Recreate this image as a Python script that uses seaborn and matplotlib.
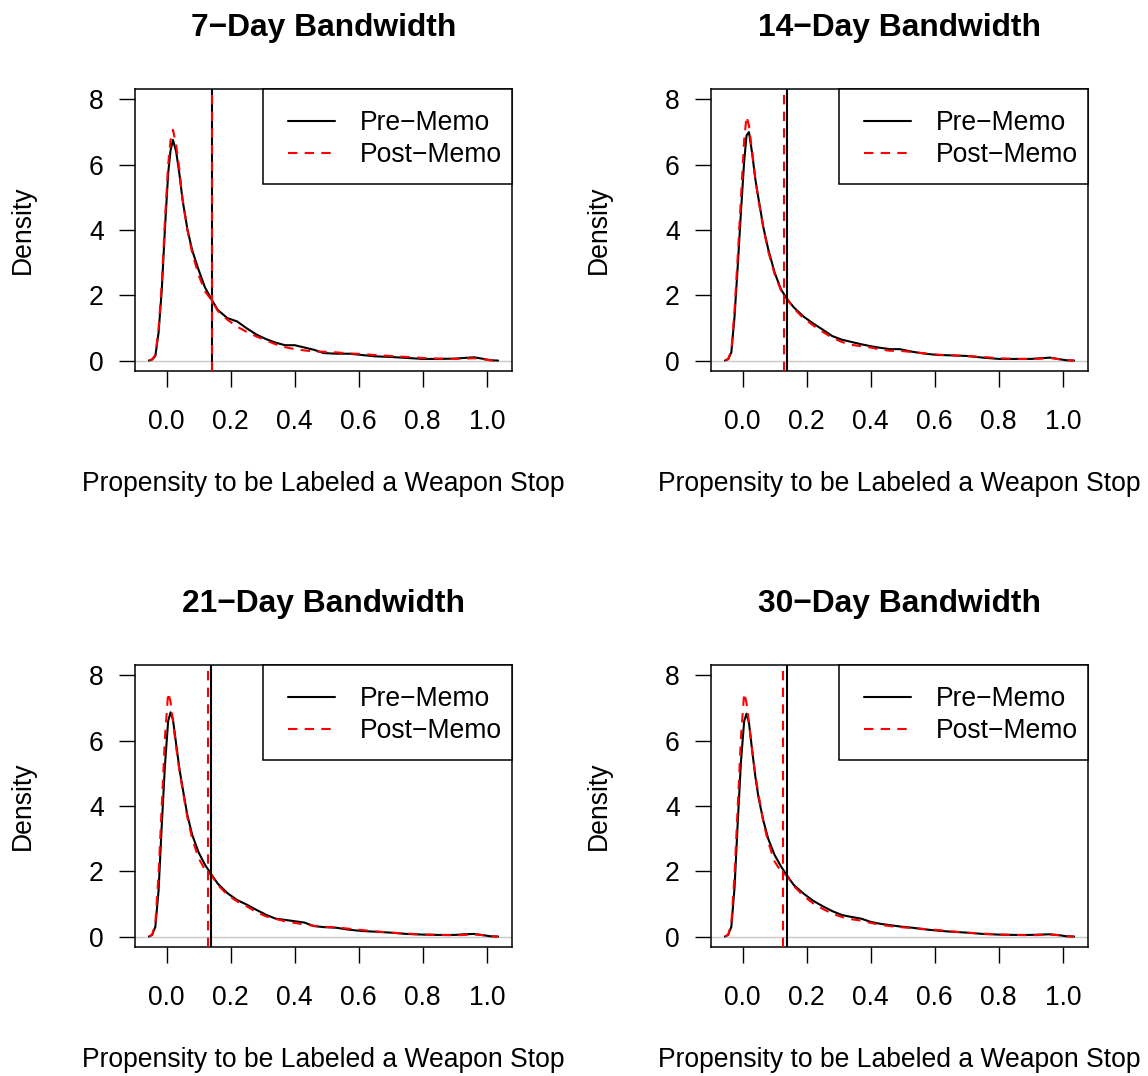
import matplotlib
matplotlib.use("Agg")
import numpy as np
import pandas as pd
import matplotlib.pyplot as plt
from matplotlib.patches import Rectangle
import seaborn as sns

# ---------------- data ----------------
titles = ["7−Day Bandwidth", "14−Day Bandwidth", "21−Day Bandwidth", "30−Day Bandwidth"]
series_names = ["Pre−Memo", "Post−Memo"]
x_label = "Propensity to be Labeled a Weapon Stop"
y_label = "Density"
x_ticks = [0.0, 0.2, 0.4, 0.6, 0.8, 1.0]
x_tick_labels = ["0.0", "0.2", "0.4", "0.6", "0.8", "1.0"]
y_ticks = [0, 2, 4, 6, 8]
y_tick_labels = ["0", "2", "4", "6", "8"]

propensity = [-0.055, -0.045, -0.035, -0.025, -0.015, -0.005, 0.005, 0.0125, 0.02, 0.03,
              0.04, 0.05, 0.065, 0.08, 0.10, 0.12, 0.14, 0.16, 0.19, 0.22,
              0.25, 0.28, 0.31, 0.34, 0.37, 0.40, 0.43, 0.46, 0.49, 0.53,
              0.57, 0.61, 0.65, 0.70, 0.75, 0.80, 0.85, 0.90, 0.93, 0.96,
              0.99, 1.01, 1.035]

pre_7 = [0.00, 0.03, 0.14, 0.85, 2.15, 4.05, 5.73, 6.44, 6.76, 6.40,
         5.73, 4.92, 4.03, 3.38, 2.78, 2.24, 1.88, 1.55, 1.30, 1.20,
         0.99, 0.80, 0.66, 0.55, 0.47, 0.47, 0.40, 0.33, 0.23, 0.21,
         0.21, 0.17, 0.13, 0.11, 0.08, 0.05, 0.05, 0.06, 0.08, 0.10,
         0.05, 0.01, 0.00]
post_7 = [0.00, 0.04, 0.17, 0.95, 2.35, 4.30, 6.00, 6.75, 7.07, 6.60,
          5.85, 4.95, 4.00, 3.30, 2.62, 2.12, 1.86, 1.52, 1.25, 1.04,
          0.88, 0.74, 0.62, 0.50, 0.41, 0.35, 0.31, 0.28, 0.27, 0.25,
          0.22, 0.20, 0.17, 0.14, 0.11, 0.08, 0.06, 0.05, 0.06, 0.07,
          0.04, 0.01, 0.00]

pre_14 = [0.00, 0.04, 0.25, 1.35, 2.90, 4.55, 6.10, 6.90, 7.00, 6.35,
          5.55, 4.95, 4.08, 3.42, 2.70, 2.18, 1.87, 1.63, 1.35, 1.14,
          0.95, 0.75, 0.64, 0.57, 0.50, 0.44, 0.39, 0.35, 0.35, 0.27,
          0.21, 0.17, 0.16, 0.14, 0.09, 0.05, 0.05, 0.05, 0.07, 0.09,
          0.04, 0.01, 0.00]
post_14 = [0.00, 0.05, 0.30, 1.55, 3.20, 5.00, 6.75, 7.48, 7.20, 6.40,
           5.55, 4.90, 4.05, 3.35, 2.65, 2.15, 1.87, 1.60, 1.30, 1.08,
           0.88, 0.70, 0.57, 0.48, 0.44, 0.40, 0.34, 0.30, 0.30, 0.26,
           0.22, 0.18, 0.16, 0.14, 0.11, 0.07, 0.05, 0.05, 0.06, 0.08,
           0.04, 0.01, 0.00]

pre_21 = [0.00, 0.05, 0.30, 1.40, 3.40, 5.25, 6.60, 6.87, 6.65, 5.90,
          5.15, 4.56, 3.72, 3.12, 2.58, 2.20, 1.90, 1.62, 1.33, 1.12,
          0.98, 0.82, 0.67, 0.55, 0.51, 0.47, 0.43, 0.32, 0.29, 0.27,
          0.21, 0.17, 0.15, 0.12, 0.08, 0.06, 0.05, 0.05, 0.07, 0.08,
          0.04, 0.01, 0.00]
post_21 = [0.00, 0.06, 0.40, 1.90, 4.00, 6.10, 7.47, 7.20, 6.60, 5.80,
           5.10, 4.50, 3.65, 3.00, 2.40, 2.05, 1.88, 1.58, 1.28, 1.08,
           0.93, 0.75, 0.62, 0.54, 0.47, 0.42, 0.37, 0.33, 0.30, 0.28,
           0.24, 0.20, 0.16, 0.12, 0.09, 0.06, 0.05, 0.04, 0.05, 0.07,
           0.04, 0.01, 0.00]

pre_30 = [0.00, 0.05, 0.30, 1.50, 3.50, 5.35, 6.60, 6.83, 6.55, 5.70,
          4.90, 4.25, 3.55, 3.00, 2.50, 2.15, 1.85, 1.58, 1.32, 1.10,
          0.93, 0.78, 0.66, 0.60, 0.55, 0.45, 0.39, 0.35, 0.31, 0.27,
          0.22, 0.18, 0.15, 0.12, 0.08, 0.06, 0.05, 0.05, 0.06, 0.07,
          0.04, 0.01, 0.00]
post_30 = [0.00, 0.06, 0.40, 1.90, 4.00, 6.10, 7.46, 7.15, 6.55, 5.70,
           4.95, 4.35, 3.50, 2.90, 2.30, 2.00, 1.85, 1.55, 1.25, 1.02,
           0.85, 0.70, 0.60, 0.53, 0.49, 0.42, 0.36, 0.32, 0.29, 0.26,
           0.23, 0.20, 0.16, 0.12, 0.09, 0.06, 0.05, 0.04, 0.05, 0.06,
           0.04, 0.01, 0.00]

cutoff_pre = [0.141, 0.139, 0.139, 0.1395]
cutoff_post = [0.141, 0.129, 0.128, 0.127]

pre_curves = [pre_7, pre_14, pre_21, pre_30]
post_curves = [post_7, post_14, post_21, post_30]

# ---------------- style ----------------
sns.set_style("white")
plt.rcParams["font.family"] = ["Liberation Sans", "DejaVu Sans"]
plt.rcParams["axes.unicode_minus"] = True
for key in ["text.color", "axes.labelcolor", "xtick.color", "ytick.color",
            "axes.edgecolor", "axes.titlecolor"]:
    plt.rcParams[key] = "black"

FS = 19.1        # base font size (pt)
TITLE_FS = 22.9
LW = 1.5
DASH = (0, (4.5, 3.5))

W, H = 1148, 1076
fig = plt.figure(figsize=(W / 100, H / 100), dpi=100)
fig.patch.set_facecolor("white")

ax_w, ax_h = 377, 282
for i in range(4):
    r, c = divmod(i, 2)
    left = (135 + 576 * c) / W
    bottom = (H - 371 - 576 * r) / H
    ax = fig.add_axes([left, bottom, ax_w / W, ax_h / H])

    df = pd.DataFrame({"x": propensity * 2,
                       "density": list(pre_curves[i]) + list(post_curves[i]),
                       "period": [series_names[0]] * len(propensity) + [series_names[1]] * len(propensity)})

    ax.axhline(0, color="#c8c8c8", lw=1.0, zorder=1)
    sns.lineplot(data=df[df.period == series_names[0]], x="x", y="density", ax=ax,
                 color="black", lw=LW, label=series_names[0], estimator=None,
                 errorbar=None, sort=False, zorder=3)
    sns.lineplot(data=df[df.period == series_names[1]], x="x", y="density", ax=ax,
                 color="red", lw=LW, linestyle=DASH, label=series_names[1],
                 estimator=None, errorbar=None, sort=False, zorder=4)
    ax.axvline(cutoff_pre[i], color="black", lw=LW, zorder=5)
    ax.axvline(cutoff_post[i], color="red", lw=LW, linestyle=DASH, zorder=6)

    ax.set_xlim(-0.0985, 1.0785)
    ax.set_ylim(-0.32, 8.32)
    ax.set_xticks(x_ticks)
    ax.set_xticklabels(x_tick_labels)
    ax.set_yticks(y_ticks)
    ax.set_yticklabels(y_tick_labels)
    ax.tick_params(axis="both", direction="out", length=11.5, width=1.0,
                   color="black", labelsize=FS, labelcolor="black",
                   bottom=True, left=True)
    ax.tick_params(axis="x", pad=16)
    ax.tick_params(axis="y", pad=11)
    for s in ax.spines.values():
        s.set_visible(True)
        s.set_color("black")
        s.set_linewidth(1.1)

    ax.set_title(titles[i], fontsize=TITLE_FS, fontweight="bold", pad=38, color="black")
    ax.set_xlabel(x_label, fontsize=FS, color="black")
    ax.set_ylabel(y_label, fontsize=FS, color="black")
    ax.xaxis.set_label_coords(0.5, -0.355)
    ax.yaxis.set_label_coords(-0.263, 0.5)

    # legend box (R style: flush with top-right corner)
    box_left = (263 - 135) / ax_w
    box_bottom = (371 - 184) / ax_h
    ax.add_patch(Rectangle((box_left, box_bottom), 1 - box_left, 1 - box_bottom,
                           transform=ax.transAxes, facecolor="white",
                           edgecolor="black", lw=1.1, zorder=7, clip_on=False))
    leg = ax.legend(loc="upper left", bbox_to_anchor=((288 - 135) / ax_w, (371 - 110.0) / ax_h),
                    borderaxespad=0, borderpad=0, frameon=False,
                    fontsize=FS, handlelength=1.77, handletextpad=0.94,
                    labelspacing=0.23)
    leg.set_zorder(8)
    for t in leg.get_texts():
        t.set_color("black")

fig.savefig("out.png", dpi=100, facecolor="white")
